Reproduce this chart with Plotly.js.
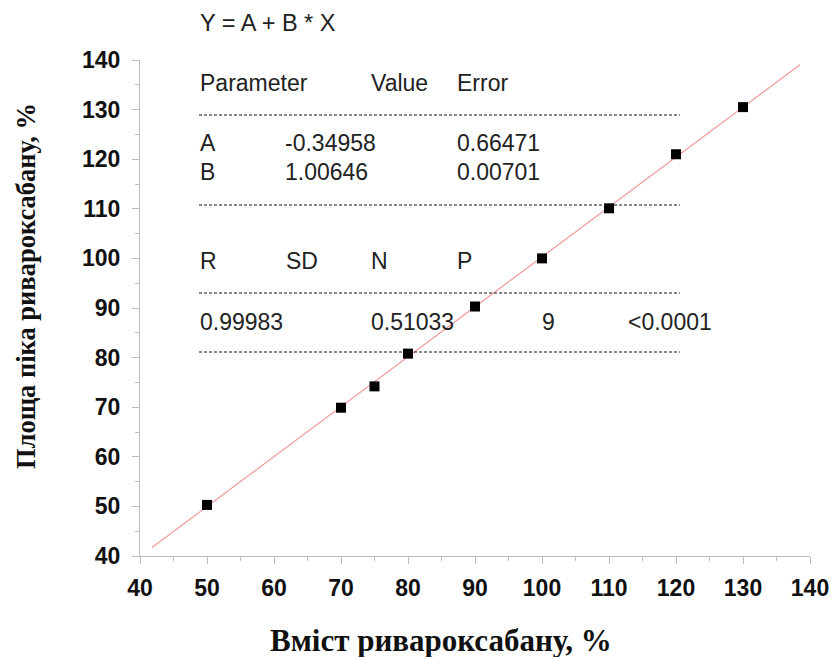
<!DOCTYPE html>
<html><head><meta charset="utf-8">
<script src="https://cdn.plot.ly/plotly-3.0.1.min.js"></script>
<style>html,body{margin:0;padding:0;background:#fff}#chart{width:833px;height:657px}</style>
</head><body><div id="chart"></div>
<script>
const contentX = [50, 70, 75, 80, 90, 100, 110, 120, 130];
const peakArea = [50.3, 69.9, 74.2, 80.8, 90.3, 100.0, 110.1, 121.0, 130.5];
const fitA = -0.34958;
const fitB = 1.00646;
const fitRangeX = [41.8, 138.5];
const tickVals = [40, 50, 60, 70, 80, 90, 100, 110, 120, 130, 140];
const xTitle = "Вміст ривароксабану, %";
const yTitle = "Площа піка ривароксабану, %";
const equationText = "Y = A + B * X";
const paramHeader = ["Parameter", "Value", "Error"];
const paramRows = [["A", "-0.34958", "0.66471"], ["B", "1.00646", "0.00701"]];
const statHeader = ["R", "SD", "N", "P"];
const statValues = ["0.99983", "0.51033", "9", "<0.0001"];

const fitY = fitRangeX.map(x => fitA + fitB * x);

// pixel helpers for layout (plot area: left 140, right 810, top 60, bottom 556)
const L = 140, R = 810, T = 60, B = 556;
const px = x => (x - L) / (R - L);
const py = y => (B - y) / (B - T);

const tfont = {family: "Liberation Sans, Arial, sans-serif", size: 23, color: "#222"};
const ann = [];
function txt(t, x, y, size) {
  ann.push({text: t, xref: "paper", yref: "paper", x: px(x), y: py(y), xanchor: "left", yanchor: "middle",
    showarrow: false, font: Object.assign({}, tfont, size ? {size: size} : {})});
}
txt(equationText, 198, 23, 23.5);
[198, 369, 455].forEach((x, i) => txt(paramHeader[i], x, 83));
paramRows.forEach((row, r) => [198, 283, 455].forEach((x, i) => txt(row[i], x, 143 + r * 29)));
[198, 284, 369, 455].forEach((x, i) => txt(statHeader[i], x, 261));
[198, 369, 540, 626].forEach((x, i) => txt(statValues[i], x, 322));

const titleFont = {family: "Liberation Serif, Times New Roman, serif", color: "#111", weight: "bold"};
ann.push({text: xTitle, xref: "paper", yref: "paper", x: px(441), y: py(640), xanchor: "center", yanchor: "middle",
  showarrow: false, font: Object.assign({size: 31}, titleFont)});
ann.push({text: yTitle, xref: "paper", yref: "paper", x: px(26), y: py(286), xanchor: "center", yanchor: "middle",
  textangle: -90, showarrow: false, font: Object.assign({size: 26.5}, titleFont)});

const shapes = [115, 205, 293, 352].map(y => ({
  type: "line", xref: "paper", yref: "paper", x0: px(199), x1: px(680), y0: py(y), y1: py(y),
  line: {color: "#111", width: 1, dash: "3px,2px"}
}));

const axisCommon = {
  range: [40, 140], tickvals: tickVals, showgrid: false, zeroline: false,
  showline: true, linecolor: "#bdbdbd", linewidth: 1,
  ticks: "outside", ticklen: 7, tickcolor: "#bdbdbd", tickwidth: 1,
  minor: {ticks: "outside", ticklen: 4, tickcolor: "#bdbdbd", dtick: 5, tick0: 40},
  tickfont: {family: "Liberation Sans, Arial, sans-serif", size: 23, color: "#111", weight: "bold"}
};

const traces = [
  {x: fitRangeX, y: fitY, mode: "lines", line: {color: "#f09a9a", width: 1.2}, hoverinfo: "skip"},
  {x: contentX, y: peakArea, mode: "markers", marker: {symbol: "square", size: 10, color: "#000"}}
];

const layout = {
  width: 833, height: 657, showlegend: false,
  paper_bgcolor: "#fff", plot_bgcolor: "#fff",
  margin: {l: L, r: 833 - R, t: T, b: 657 - B},
  xaxis: Object.assign({}, axisCommon, {ticklabelstandoff: 4}),
  yaxis: Object.assign({}, axisCommon, {ticklabelstandoff: 7}),
  annotations: ann, shapes: shapes
};
Plotly.newPlot("chart", traces, layout, {displayModeBar: false, staticPlot: true});
</script></body></html>
